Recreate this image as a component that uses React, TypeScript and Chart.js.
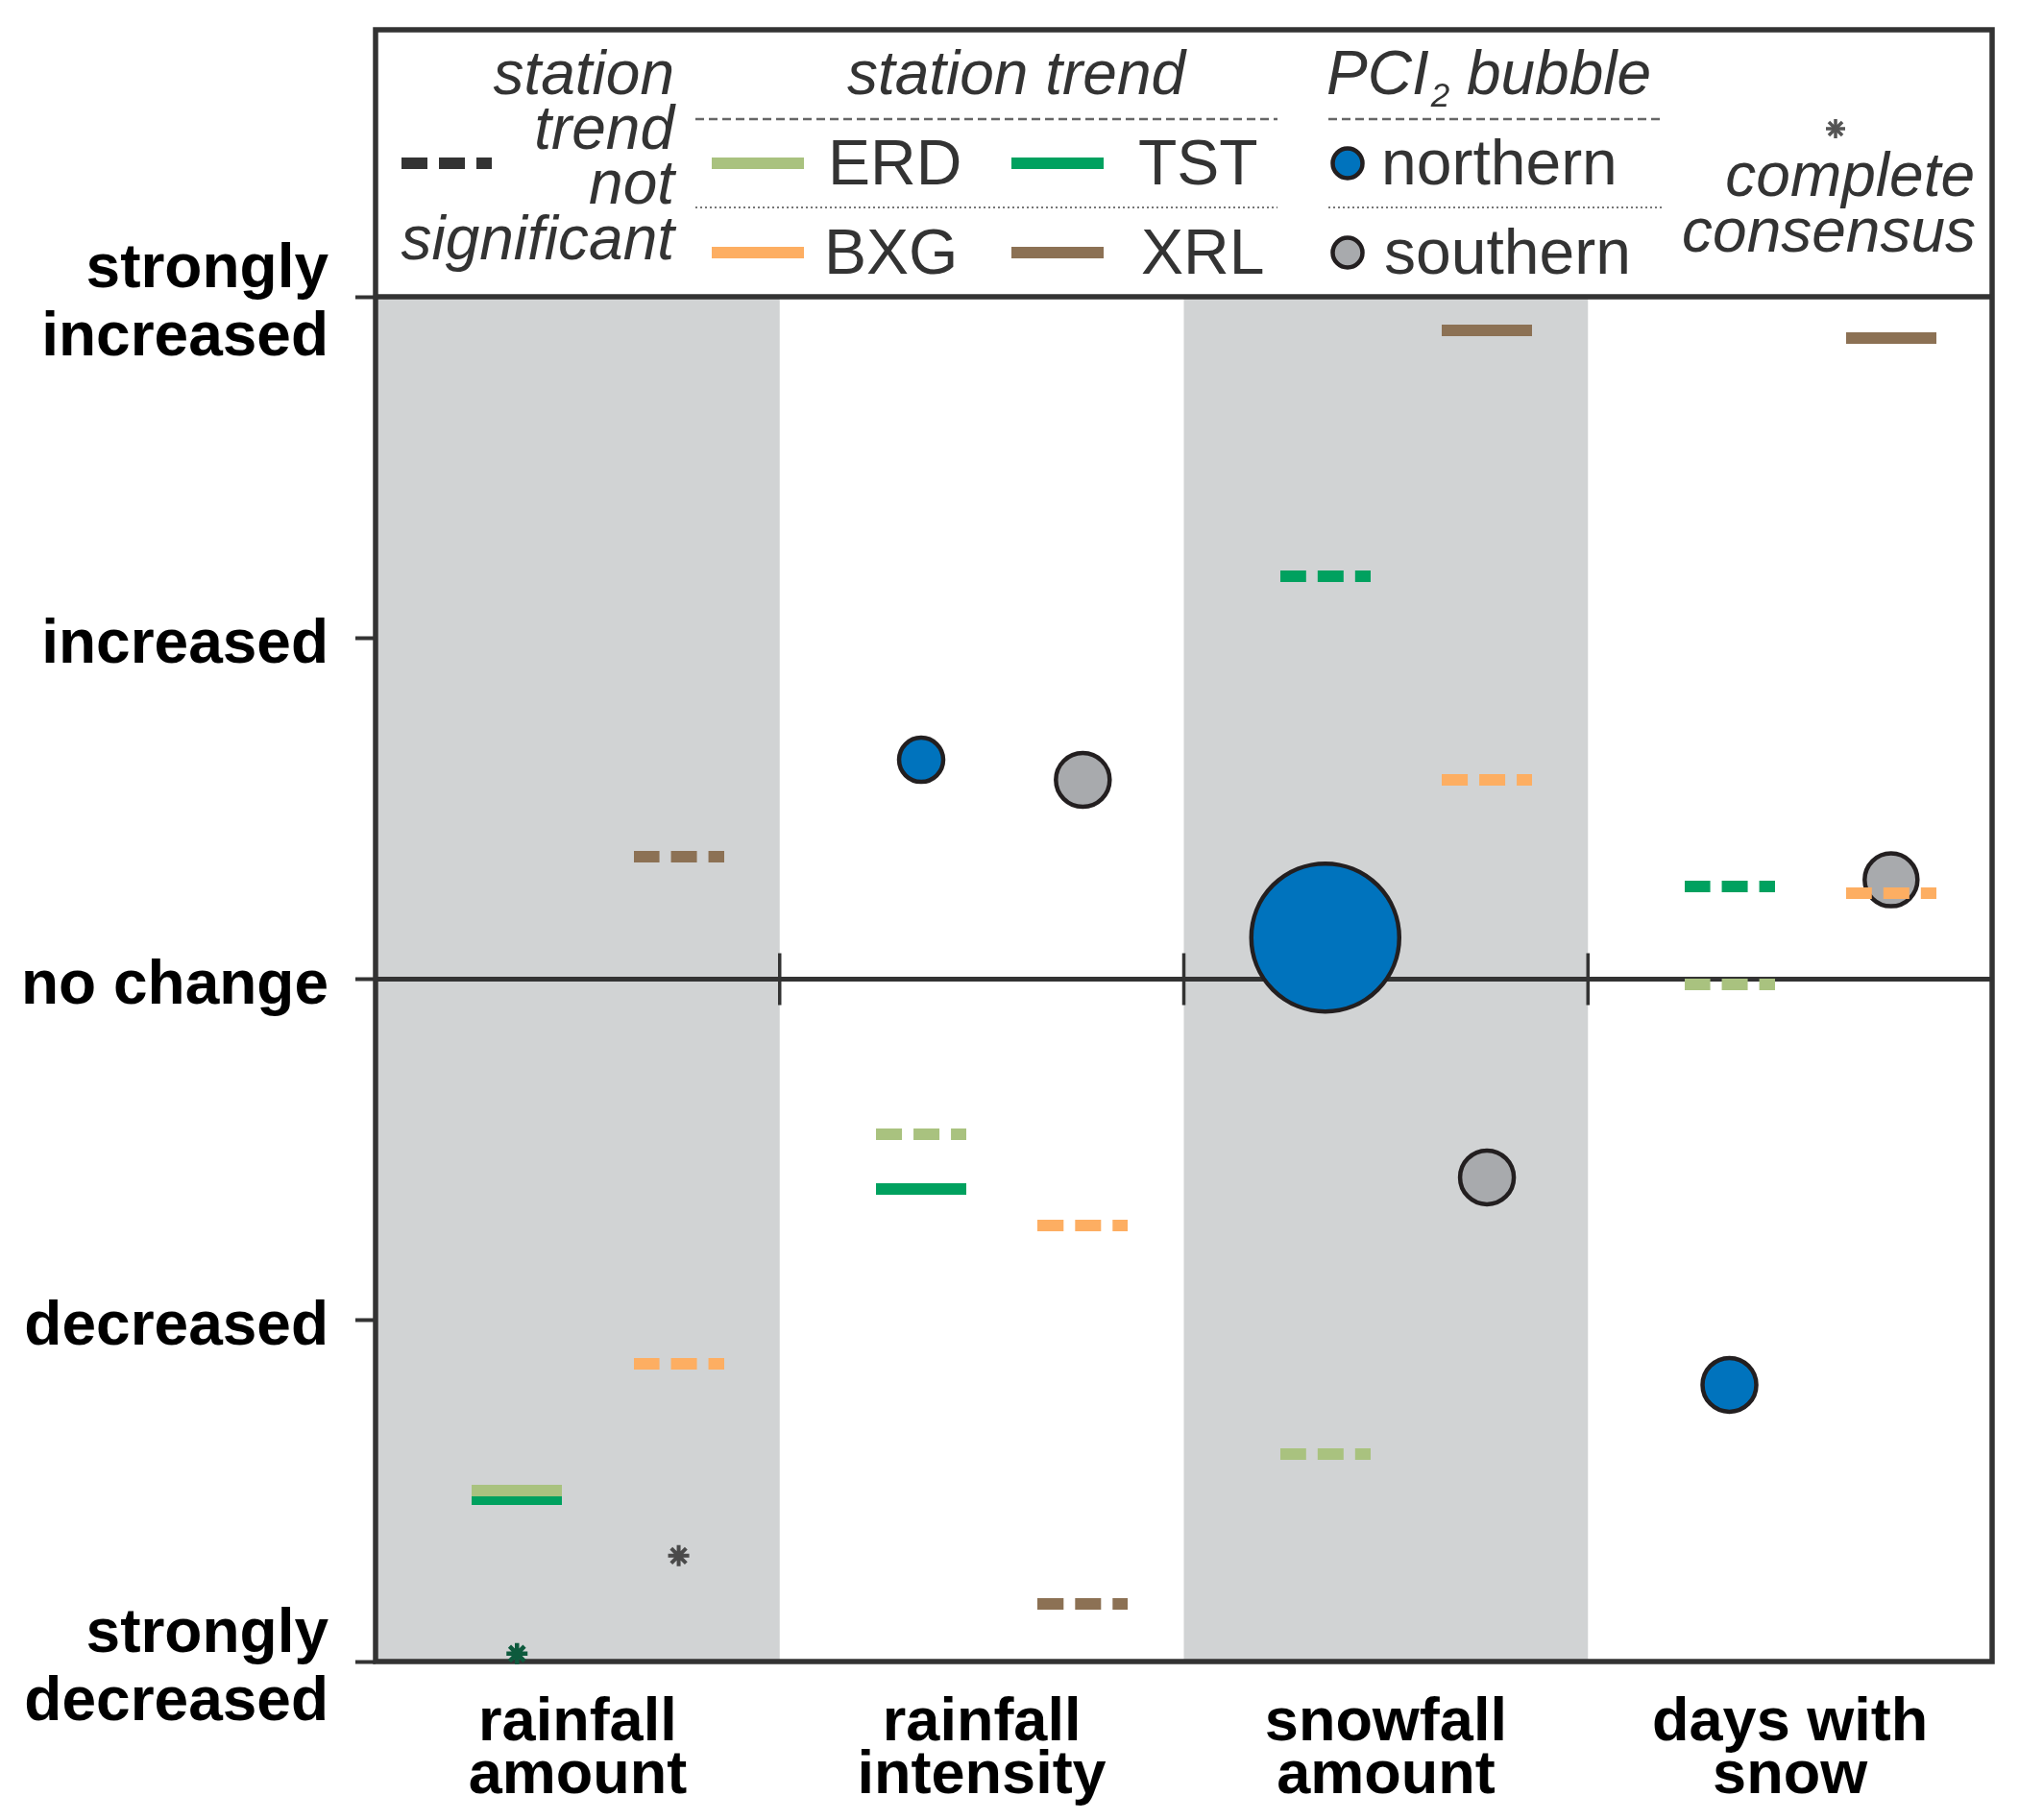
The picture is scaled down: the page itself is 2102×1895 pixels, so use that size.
import React, { useEffect, useRef } from 'react';
import { Chart, registerables } from 'chart.js';

Chart.register(...registerables);

// ---------- data ----------
const categories = [['rainfall', 'amount'], ['rainfall', 'intensity'], ['snowfall', 'amount'], ['days with', 'snow']];
const yTickLabels: (string | string[])[] = [['strongly', 'decreased'], 'decreased', 'no change', 'increased', ['strongly', 'increased']];
const shadedColumns = [true, false, true, false];

const stationNames = ['ERD', 'TST', 'BXG', 'XRL'];
const erdValues = [-1.5, -0.455, -1.391, -0.015];
const erdSignificant = [true, false, false, false];
const tstValues = [-1.524, -0.615, 1.181, 0.272];
const tstSignificant = [true, true, false, false];
const bxgValues = [-1.128, -0.722, 0.583, 0.252];
const bxgSignificant = [false, false, false, false];
const xrlValues = [0.359, -1.831, 1.902, 1.88];
const xrlSignificant = [false, false, true, true];

const northernValues = [null, 0.643, 0.122, -1.189];
const northernSize = [null, 23, 77, 28];
const southernValues = [null, 0.584, -0.581, 0.291];
const southernSize = [null, 28, 28, 27.5];

const consensusNorthern = [-1.977, null, null, null];
const consensusSouthern = [-1.69, null, null, null];

// ---------- styles ----------
const LEFT_SLOT = 0.35;
const RIGHT_SLOT = 0.75;
const COLORS: Record<string, string> = {
  ERD: '#a9c27f',
  TST: '#00a15f',
  BXG: '#fdae62',
  XRL: '#8c7154',
};
const BLUE = '#0073bd';
const GREY_BUBBLE = '#a8aaad';
const BUBBLE_BORDER = '#231f20';
const SHADE = '#d1d3d4';
const FRAME = '#333333';
const FONT = '"Liberation Sans", Arial, Helvetica, sans-serif';
const LEGEND_TOP = 31;
const Y_LABEL_SHIFT = 8;

function makeMark(color: string, dashed: boolean): HTMLCanvasElement {
  const c = document.createElement('canvas');
  c.width = 94;
  c.height = 12;
  const g = c.getContext('2d')!;
  g.fillStyle = color;
  if (dashed) {
    [[0, 27], [39, 66], [78, 94]].forEach(([a, b]) => g.fillRect(a, 0, b - a, 12));
  } else {
    g.fillRect(0, 0, 94, 12);
  }
  return c;
}

function drawAsterisk(ctx: CanvasRenderingContext2D, x: number, y: number, r: number, color: string, w: number) {
  ctx.save();
  ctx.strokeStyle = color;
  ctx.lineWidth = w;
  for (let k = 0; k < 4; k++) {
    const ang = (k * Math.PI) / 4;
    ctx.beginPath();
    ctx.moveTo(x - r * Math.cos(ang), y - r * Math.sin(ang));
    ctx.lineTo(x + r * Math.cos(ang), y + r * Math.sin(ang));
    ctx.stroke();
  }
  ctx.restore();
}

function hLine(ctx: CanvasRenderingContext2D, x0: number, x1: number, y: number, w: number, color: string, dash: number[]) {
  ctx.save();
  ctx.strokeStyle = color;
  ctx.lineWidth = w;
  ctx.setLineDash(dash);
  ctx.beginPath();
  ctx.moveTo(x0, y);
  ctx.lineTo(x1, y);
  ctx.stroke();
  ctx.restore();
}

const labelShiftPlugin = {
  id: 'labelShift',
  beforeDraw(chart: any) {
    const y = chart.scales.y;
    const items = y.getLabelItems();
    if (!y._shifted) {
      items.forEach((it: any) => {
        it.options.translation = [it.options.translation[0], it.options.translation[1] + Y_LABEL_SHIFT];
      });
      y._shifted = true;
    }
  },
};

const backgroundPlugin = {
  id: 'panelBackground',
  beforeDatasetsDraw(chart: any) {
    const { ctx, chartArea: a, scales } = chart;
    const x = scales.x;
    const y = scales.y;
    ctx.save();
    ctx.fillStyle = SHADE;
    shadedColumns.forEach((s, i) => {
      if (!s) return;
      const x0 = x.getPixelForValue(i);
      const x1 = x.getPixelForValue(i + 1);
      ctx.fillRect(x0, a.top, x1 - x0, a.bottom - a.top);
    });
    const y0 = y.getPixelForValue(0);
    ctx.strokeStyle = FRAME;
    ctx.lineWidth = 5;
    ctx.beginPath();
    ctx.moveTo(a.left, y0);
    ctx.lineTo(a.right, y0);
    ctx.stroke();
    ctx.lineWidth = 3.5;
    for (let i = 1; i < categories.length; i++) {
      const px = x.getPixelForValue(i);
      ctx.beginPath();
      ctx.moveTo(px, y0 - 27);
      ctx.lineTo(px, y0 + 27);
      ctx.stroke();
    }
    ctx.lineWidth = 5.5;
    ctx.strokeRect(a.left, LEGEND_TOP, a.right - a.left, a.bottom - LEGEND_TOP);
    ctx.beginPath();
    ctx.moveTo(a.left, a.top);
    ctx.lineTo(a.right, a.top);
    ctx.stroke();
    ctx.restore();
  },
};

const legendPlugin = {
  id: 'customLegend',
  afterDraw(chart: any) {
    const ctx: CanvasRenderingContext2D = chart.ctx;
    ctx.save();
    const txt = '#333333';
    const italic = `italic 64px ${FONT}`;
    const regular = `66px ${FONT}`;
    ctx.fillStyle = txt;
    ctx.textBaseline = 'alphabetic';

    // not significant block
    ctx.font = italic;
    ctx.textAlign = 'right';
    const nsLines = ['station', 'trend', 'not', 'significant'];
    const nsBase = [98, 155, 212, 270];
    nsLines.forEach((t, i) => ctx.fillText(t, 702, nsBase[i]));
    const darkDash = makeMark('#333333', true);
    ctx.drawImage(darkDash, 418, 164);

    // station trend block
    ctx.textAlign = 'center';
    ctx.fillText('station trend', 1058, 98);
    hLine(ctx, 724, 1330, 124, 2.5, '#666666', [9, 5]);
    hLine(ctx, 724, 1330, 216, 2, '#777777', [2, 3]);
    const swatch = (name: string, x: number, y: number) => {
      ctx.fillStyle = COLORS[name];
      ctx.fillRect(x, y - 6, 96, 12);
    };
    swatch('ERD', 741, 170);
    swatch('TST', 1053, 170);
    swatch('BXG', 741, 263);
    swatch('XRL', 1053, 263);
    ctx.fillStyle = txt;
    ctx.font = regular;
    ctx.textAlign = 'left';
    ctx.fillText(stationNames[0], 862, 192);
    ctx.fillText(stationNames[1], 1185, 192);
    ctx.fillText(stationNames[2], 858, 285);
    ctx.fillText(stationNames[3], 1188, 285);

    // PCI2 bubble block
    ctx.font = italic;
    let px = 1381;
    ctx.fillText('PCI', px, 98);
    px += ctx.measureText('PCI').width + 2;
    ctx.font = `italic 35px ${FONT}`;
    ctx.fillText('2', px, 111);
    px += ctx.measureText('2').width;
    ctx.font = italic;
    ctx.fillText(' bubble', px, 98);
    hLine(ctx, 1383, 1733, 124, 2.5, '#666666', [9, 5]);
    hLine(ctx, 1383, 1733, 216, 2, '#777777', [2, 3]);
    const circle = (x: number, y: number, fill: string) => {
      ctx.beginPath();
      ctx.arc(x, y, 15.5, 0, Math.PI * 2);
      ctx.fillStyle = fill;
      ctx.fill();
      ctx.lineWidth = 4.5;
      ctx.strokeStyle = BUBBLE_BORDER;
      ctx.stroke();
    };
    circle(1403, 170, BLUE);
    circle(1403, 263, GREY_BUBBLE);
    ctx.fillStyle = txt;
    ctx.font = regular;
    ctx.fillText('northern', 1438, 192);
    ctx.fillText('southern', 1441, 285);

    // consensus
    drawAsterisk(ctx, 1911, 134, 10, '#555555', 3.5);
    ctx.font = italic;
    ctx.textAlign = 'right';
    ctx.fillText('complete', 2056, 204);
    ctx.fillText('consensus', 2057, 262);
    ctx.restore();
  },
};

export default function App() {
  const ref = useRef<HTMLCanvasElement | null>(null);

  useEffect(() => {
    if (!ref.current) return;
    const stations = [
      { name: 'ERD', values: erdValues, sig: erdSignificant, slot: LEFT_SLOT },
      { name: 'TST', values: tstValues, sig: tstSignificant, slot: LEFT_SLOT },
      { name: 'BXG', values: bxgValues, sig: bxgSignificant, slot: RIGHT_SLOT },
      { name: 'XRL', values: xrlValues, sig: xrlSignificant, slot: RIGHT_SLOT },
    ];

    const toPoints = (vals: (number | null)[], slot: number) =>
      vals
        .map((v, i) => (v == null ? null : { x: i + slot, y: v }))
        .filter((p) => p !== null) as { x: number; y: number }[];

    const toBubbles = (vals: (number | null)[], sizes: (number | null)[], slot: number) =>
      vals
        .map((v, i) => (v == null ? null : { x: i + slot, y: v, r: sizes[i] as number }))
        .filter((p) => p !== null) as { x: number; y: number; r: number }[];

    const datasets: any[] = [
      {
        type: 'scatter',
        label: 'consensus northern',
        data: toPoints(consensusNorthern, LEFT_SLOT),
        pointStyle: 'star',
        pointRadius: 11,
        borderWidth: 4.5,
        borderColor: '#0d5a3d',
        backgroundColor: '#0d5a3d',
        clip: false,
      },
      {
        type: 'scatter',
        label: 'consensus southern',
        data: toPoints(consensusSouthern, RIGHT_SLOT),
        pointStyle: 'star',
        pointRadius: 11,
        borderWidth: 4,
        borderColor: '#4a4a4a',
        backgroundColor: '#4a4a4a',
        clip: false,
      },
    ];

    stations.forEach((s) => {
      const solid = makeMark(COLORS[s.name], false);
      const dashed = makeMark(COLORS[s.name], true);
      const sigForPoints = s.values.map((v, i) => (v == null ? null : s.sig[i])).filter((v) => v !== null);
      datasets.push({
        type: 'scatter',
        label: s.name,
        data: toPoints(s.values, s.slot),
        pointStyle: sigForPoints.map((sig) => (sig ? solid : dashed)),
        pointRadius: 47,
        clip: false,
      });
    });

    datasets.push({
      type: 'bubble',
      label: 'northern',
      data: toBubbles(northernValues, northernSize, LEFT_SLOT),
      backgroundColor: BLUE,
      borderColor: BUBBLE_BORDER,
      borderWidth: 4.5,
      clip: false,
    });
    datasets.push({
      type: 'bubble',
      label: 'southern',
      data: toBubbles(southernValues, southernSize, RIGHT_SLOT),
      backgroundColor: GREY_BUBBLE,
      borderColor: BUBBLE_BORDER,
      borderWidth: 4.5,
      clip: false,
    });

    const chart = new Chart(ref.current, {
      type: 'scatter',
      data: { datasets },
      options: {
        animation: false,
        responsive: false,
        devicePixelRatio: 1,
        events: [],
        layout: { autoPadding: false, padding: { top: 309, right: 28, left: 0, bottom: 0 } },
        plugins: {
          legend: { display: false },
          tooltip: { enabled: false },
        },
        scales: {
          x: {
            type: 'linear',
            min: 0,
            max: categories.length,
            grid: { display: false, drawTicks: false },
            border: { display: false },
            afterBuildTicks: (scale: any) => {
              scale.ticks = categories.map((_, i) => ({ value: i + 0.5 }));
            },
            afterFit: (scale: any) => {
              scale.height = 165;
              scale.paddingLeft = 0;
              scale.paddingRight = 0;
            },
            ticks: {
              autoSkip: false,
              maxRotation: 0,
              minRotation: 0,
              padding: 38,
              color: '#000000',
              font: { family: FONT, size: 63, weight: 'bold', lineHeight: 0.86 },
              callback: (_v: any, i: number) => categories[i],
            },
          },
          y: {
            type: 'linear',
            min: -2,
            max: 2,
            grid: { display: true, drawOnChartArea: false, drawTicks: true, tickLength: 21, tickColor: FRAME, tickWidth: 4 },
            border: { display: false },
            afterFit: (scale: any) => {
              scale.width = 391;
              scale.paddingTop = 0;
              scale.paddingBottom = 0;
            },
            ticks: {
              stepSize: 1,
              autoSkip: false,
              padding: 28,
              color: '#000000',
              font: { family: FONT, size: 64, weight: 'bold', lineHeight: 1.1 },
              callback: (v: any) => yTickLabels[Math.round(Number(v)) + 2],
            },
          },
        },
      } as any,
      plugins: [labelShiftPlugin, backgroundPlugin, legendPlugin],
    });
    return () => chart.destroy();
  }, []);

  return (
    <div style={{ position: 'absolute', left: 0, top: 0, width: 2102, height: 1895, background: '#ffffff' }}>
      <canvas ref={ref} width={2102} height={1895} style={{ display: 'block' }} />
    </div>
  );
}
